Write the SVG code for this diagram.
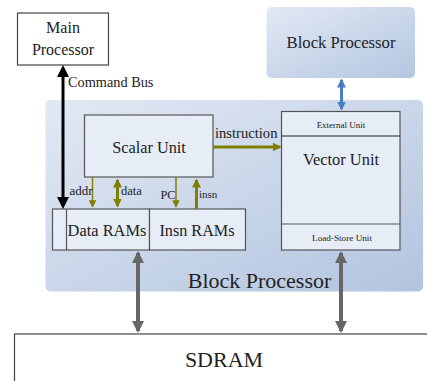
<svg xmlns="http://www.w3.org/2000/svg" width="427" height="381" viewBox="0 0 427 381" font-family="'Liberation Serif', 'Times New Roman', 'DejaVu Serif', serif">
<style>
text{font-family:"Liberation Serif","Times New Roman","DejaVu Serif",serif;fill:#222;}
.box{fill:#fff;stroke:#444;stroke-width:1.2;}
.unit{fill:#e6edf7;stroke:#555;stroke-width:1.2;}
.olive{stroke:#808000;fill:none;}
</style>
<defs>
<linearGradient id="bpg" x1="0" y1="0" x2="1" y2="1">
<stop offset="0" stop-color="#e2e9f4"/>
<stop offset="1" stop-color="#b2c4df"/>
</linearGradient>
<linearGradient id="bpg2" x1="0" y1="0" x2="1" y2="1">
<stop offset="0" stop-color="#e2e9f4"/>
<stop offset="1" stop-color="#b4c6e0"/>
</linearGradient>
<marker id="blk" markerWidth="4" markerHeight="4" refX="3" refY="2" orient="auto-start-reverse" markerUnits="strokeWidth"><path d="M0,0 L4,2 L0,4 z" fill="#000"/></marker>
<marker id="gry" markerWidth="3" markerHeight="3" refX="2.5" refY="1.5" orient="auto-start-reverse" markerUnits="strokeWidth"><path d="M0,0 L3,1.5 L0,3 z" fill="#666"/></marker>
<marker id="blu" markerWidth="3" markerHeight="3" refX="2.5" refY="1.5" orient="auto-start-reverse" markerUnits="strokeWidth"><path d="M0,0 L3,1.5 L0,3 z" fill="#4a7cc4"/></marker>
<marker id="olT" markerWidth="3" markerHeight="3" refX="2.5" refY="1.5" orient="auto-start-reverse" markerUnits="strokeWidth"><path d="M0,0 L3,1.5 L0,3 z" fill="#808000"/></marker>
<marker id="olt" markerWidth="5" markerHeight="5" refX="4.5" refY="2.5" orient="auto-start-reverse" markerUnits="strokeWidth"><path d="M0,0 L5,2.5 L0,5 z" fill="#808000"/></marker>
</defs>

<g id="block-processor-bg">
<rect x="45.5" y="100" width="377.5" height="191.5" rx="5" fill="url(#bpg)"/>
<text x="259.5" y="288" font-size="22" text-anchor="middle">Block Processor</text>
</g>

<g id="main-processor">
<rect class="box" x="17.5" y="13" width="91" height="52"/>
<text x="63" y="33" font-size="16" text-anchor="middle">Main</text>
<text x="63" y="55" font-size="16" text-anchor="middle">Processor</text>
</g>

<g id="block-processor-ext">
<rect x="266.5" y="7" width="148.5" height="71" rx="5" fill="url(#bpg2)"/>
<text x="341" y="48" font-size="16.7" text-anchor="middle">Block Processor</text>
</g>

<g id="scalar-unit">
<rect class="unit" x="84.5" y="115" width="128.5" height="62"/>
<text x="149" y="152.5" font-size="16.3" text-anchor="middle">Scalar Unit</text>
</g>

<g id="data-rams">
<rect class="unit" x="52.5" y="209" width="97" height="41"/>
<line x1="66.5" y1="209" x2="66.5" y2="250" stroke="#555" stroke-width="1.2"/>
<text x="107" y="236" font-size="16.4" text-anchor="middle">Data RAMs</text>
</g>

<g id="insn-rams">
<rect class="unit" x="149.5" y="209" width="96" height="41"/>
<text x="197" y="236" font-size="16.2" text-anchor="middle">Insn RAMs</text>
</g>

<g id="vector-unit">
<rect class="unit" x="281.5" y="111.5" width="118.5" height="138.5"/>
<line x1="281.5" y1="136" x2="400" y2="136" stroke="#222" stroke-width="1.2"/>
<line x1="281.5" y1="224" x2="400" y2="224" stroke="#555" stroke-width="1.2"/>
<text x="341" y="128" font-size="9" text-anchor="middle">External Unit</text>
<text x="341" y="165" font-size="16.4" text-anchor="middle">Vector Unit</text>
<text x="342" y="241" font-size="9.2" text-anchor="middle">Load-Store Unit</text>
</g>

<g id="sdram">
<rect class="box" x="14.5" y="334" width="420" height="60"/>
<text x="224" y="367" font-size="22" text-anchor="middle">SDRAM</text>
</g>

<g id="connectors">
<line x1="63" y1="68" x2="63" y2="206" stroke="#000" stroke-width="3" marker-start="url(#blk)" marker-end="url(#blk)"/>
<text x="68" y="87" font-size="14.3">Command Bus</text>

<line x1="341.5" y1="80" x2="341.5" y2="109" stroke="#4a7cc4" stroke-width="3" marker-start="url(#blu)" marker-end="url(#blu)"/>

<line x1="138" y1="253" x2="138" y2="331" stroke="#666" stroke-width="4" marker-start="url(#gry)" marker-end="url(#gry)"/>
<line x1="341" y1="253" x2="341" y2="331" stroke="#666" stroke-width="4" marker-start="url(#gry)" marker-end="url(#gry)"/>

<line class="olive" x1="213" y1="147" x2="280" y2="147" stroke-width="3" marker-end="url(#olT)"/>
<text x="215" y="138" font-size="14.6">instruction</text>

<line class="olive" x1="92.5" y1="177" x2="92.5" y2="207" stroke-width="1.5" marker-end="url(#olt)"/>
<text x="69.5" y="195" font-size="13">addr</text>

<line class="olive" x1="117.5" y1="180" x2="117.5" y2="206" stroke-width="3" marker-start="url(#olT)" marker-end="url(#olT)"/>
<text x="121" y="195" font-size="12.5">data</text>

<line class="olive" x1="176" y1="177" x2="176" y2="207" stroke-width="1.5" marker-end="url(#olt)"/>
<text x="160.5" y="199" font-size="12.3">PC</text>

<line class="olive" x1="196.5" y1="209" x2="196.5" y2="180" stroke-width="3" marker-end="url(#olT)"/>
<text x="199" y="198" font-size="11">insn</text>
</g>
</svg>
